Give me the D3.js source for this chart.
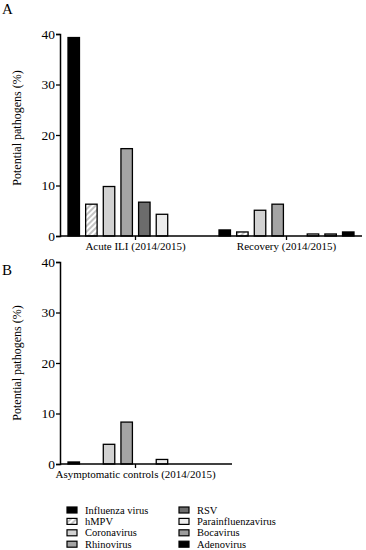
<!DOCTYPE html>
<html>
<head>
<meta charset="utf-8">
<script src="https://cdnjs.cloudflare.com/ajax/libs/d3/7.8.5/d3.min.js"></script>
<style>
  html, body { margin: 0; padding: 0; background: #fff; }
  svg { display: block; }
  svg text { font-family: "Liberation Serif", "Times New Roman", Times, "DejaVu Serif", serif !important; }
</style>
</head>
<body>
<div id="chart"></div>
<script>
// Potential pathogens by group, panels A and B
const viruses = ['Influenza virus', 'hMPV', 'Coronavirus', 'Rhinovirus', 'RSV', 'Parainfluenzavirus', 'Bocavirus', 'Adenovirus'];
const groupsA = ['Acute ILI (2014/2015)', 'Recovery (2014/2015)'];
const acuteValues = [39.3, 6.3, 9.8, 17.3, 6.7, 4.3, 0, 0];
const recoveryValues = [1.2, 0.8, 5.1, 6.3, 0, 0.4, 0.4, 0.8];
const groupsB = ['Asymptomatic controls (2014/2015)'];
const controlValues = [0.4, 0, 3.9, 8.3, 0, 0.9, 0, 0];
const yTicks = [0, 10, 20, 30, 40];

const fills = {
  'Influenza virus': '#000',
  'hMPV': 'url(#hatch)',
  'Coronavirus': '#d2d2d2',
  'Rhinovirus': '#a4a4a4',
  'RSV': '#6c6c6c',
  'Parainfluenzavirus': '#ececec',
  'Bocavirus': '#9c9c9c',
  'Adenovirus': '#000'
};

const width = 366, height = 550;
const svg = d3.select('#chart').append('svg')
  .attr('width', width).attr('height', height);

const defs = svg.append('defs');
const pat = defs.append('pattern')
  .attr('id', 'hatch')
  .attr('patternUnits', 'userSpaceOnUse')
  .attr('width', 4).attr('height', 4)
  .attr('patternTransform', 'rotate(45)');
pat.append('rect').attr('width', 4).attr('height', 4).attr('fill', '#fff');
pat.append('rect').attr('width', 2).attr('height', 4).attr('fill', '#c4c4c4');

function panel(opts) {
  const g = svg.append('g');
  const x = d3.scaleBand().domain(opts.groups).range([60, 60 + 151 * opts.groups.length]);
  const inner = d3.scaleBand().domain(viruses).range([8, 143]).paddingInner(0.35);
  const y = d3.scaleLinear().domain([0, 40]).range([opts.y0, opts.y0 - 202]);

  opts.series.forEach((vals, gi) => {
    const grp = opts.groups[gi];
    g.selectAll(null)
      .data(viruses.map((v, i) => ({ v, value: vals[i] })))
      .enter()
      .append('rect')
      .attr('x', d => x(grp) + inner(d.v))
      .attr('width', inner.bandwidth())
      .attr('y', d => y(d.value))
      .attr('height', d => y(0) - y(d.value))
      .attr('fill', d => fills[d.v])
      .attr('stroke', '#000')
      .attr('stroke-width', d => d.value > 0 ? 1.3 : 0);
  });

  // y axis
  const ya = g.append('g')
    .attr('transform', 'translate(60,0)')
    .call(d3.axisLeft(y).tickValues(yTicks).tickSize(4).tickFormat(d3.format('d')));
  ya.attr('font-family', null);
  ya.select('.domain').attr('stroke-width', 1.5);
  ya.selectAll('.tick line').attr('stroke-width', 1.3);
  ya.selectAll('text')
    .attr('font-size', 13.5)
    .attr('fill', '#000')
    .attr('x', -5);

  // x axis
  const xa = g.append('g')
    .attr('transform', `translate(0,${opts.y0})`)
    .call(d3.axisBottom(x).tickSize(4).tickSizeOuter(0));
  xa.attr('font-family', null);
  xa.select('.domain').remove();
  xa.append('line')
    .attr('x1', 60).attr('x2', opts.xEnd)
    .attr('stroke', '#000').attr('stroke-width', 1.5);
  xa.selectAll('.tick line').attr('stroke-width', 1.3);
  xa.selectAll('text')
    .attr('font-size', 11)
    .attr('fill', '#000')
    .attr('y', 6);

  g.append('text')
    .attr('transform', `translate(21,${opts.labelCenter}) rotate(-90)`)
    .attr('text-anchor', 'middle')
    .attr('font-size', 12)
    .text('Potential pathogens (%)');

  g.append('text')
    .attr('x', 2).attr('y', opts.labelY)
    .attr('font-size', 15)
    .text(opts.label);
}

panel({ groups: groupsA, series: [acuteValues, recoveryValues], y0: 236, xEnd: 362, label: 'A', labelY: 14, labelCenter: 128 });
panel({ groups: groupsB, series: [controlValues], y0: 464, xEnd: 232, label: 'B', labelY: 275, labelCenter: 363 });

// legend
const legend = svg.append('g');
const item = legend.selectAll('g')
  .data(viruses)
  .enter()
  .append('g')
  .attr('transform', (d, i) => `translate(${i < 4 ? 67 : 179},${510 + (i % 4) * 11.4})`);
item.append('rect')
  .attr('x', 0).attr('y', -3)
  .attr('width', 10).attr('height', 6)
  .attr('fill', d => fills[d])
  .attr('stroke', '#000').attr('stroke-width', 1.2);
item.append('text')
  .attr('x', 18).attr('y', 3.5)
  .attr('font-size', 10.5)
  .text(d => d);
</script>
</body>
</html>
